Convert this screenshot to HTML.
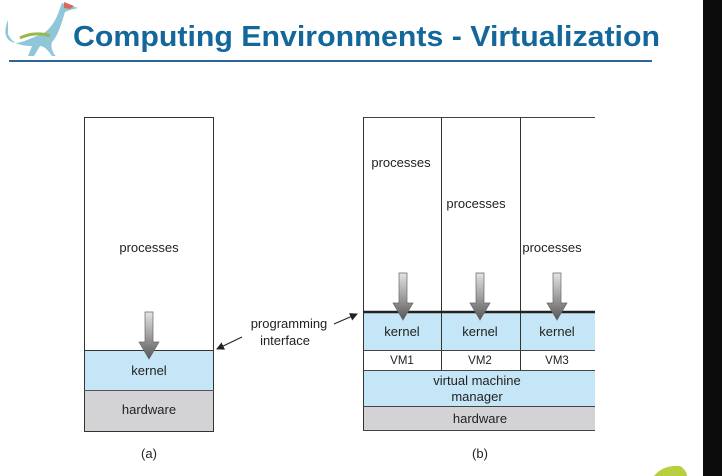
<!DOCTYPE html>
<html><head><meta charset="utf-8"><style>
html,body{margin:0;padding:0;background:#fff;width:722px;height:476px;overflow:hidden}
svg{display:block}
</style></head><body>
<svg width="722" height="476" viewBox="0 0 722 476" xmlns="http://www.w3.org/2000/svg" font-family="'Liberation Sans',sans-serif">
<defs>
<linearGradient id="g" x1="0" x2="0" y1="0" y2="1"><stop offset="0" stop-color="#e4e4e4"/><stop offset="0.55" stop-color="#999"/><stop offset="1" stop-color="#555"/></linearGradient>
<marker id="ah" markerWidth="8" markerHeight="8" refX="7" refY="4" orient="auto" markerUnits="userSpaceOnUse"><path d="M0,0 L8,4 L0,8 z" fill="#222"/></marker>
</defs>
<rect x="703" y="0" width="19" height="476" fill="#0c0c0c"/>
<!-- dino -->
<path d="M8,20 C4,30 4,38 12,42 C20,45 30,38 40,35 C48,32 56,22 60,8 L62,3 L72,6 L78,8 L70,10 L65,12 C62,22 58,36 52,42 C50,48 54,55 56,56 L52,56 C48,50 44,46 40,46 L34,56 L28,56 L32,46 C22,46 12,44 8,34 Z" fill="#8fc6d8"/>
<path d="M20,38 C28,34 40,32 50,36" stroke="#9ab84a" stroke-width="3" fill="none"/>
<path d="M64,2 L74,6 L70,9 L64,8 Z" fill="#d86a5a"/>
<text x="73" y="46" font-size="29" font-weight="bold" fill="#13679a" textLength="587" lengthAdjust="spacingAndGlyphs">Computing Environments - Virtualization</text>
<rect x="9" y="60" width="643" height="2" fill="#2f6596"/>
<!-- (a) -->
<rect x="84" y="350" width="130" height="40" fill="#c4e6f6"/>
<rect x="84" y="390" width="130" height="41" fill="#d3d3d5"/>
<rect x="84.5" y="117.5" width="129" height="314" fill="none" stroke="#333" stroke-width="1"/>
<line x1="84" y1="350.5" x2="214" y2="350.5" stroke="#333"/>
<line x1="84" y1="390.5" x2="214" y2="390.5" stroke="#555"/>
<g font-size="13" fill="#222" text-anchor="middle">
<text x="149" y="252">processes</text>
<text x="149" y="375">kernel</text>
<text x="149" y="414">hardware</text>
<text x="149" y="458">(a)</text>
<text x="289" y="328">programming</text>
<text x="285" y="345">interface</text>
</g>
<path d="M145,312 h8 v30 h6 l-10,17 l-10,-17 h6 z" fill="url(#g)" stroke="#666" stroke-width="0.7"/>
<line x1="242" y1="337" x2="217" y2="349" stroke="#222" marker-end="url(#ah)"/>
<line x1="334" y1="324" x2="357" y2="314" stroke="#222" marker-end="url(#ah)"/>
<!-- (b) -->
<rect x="363" y="312" width="232" height="38" fill="#c4e6f6"/>
<rect x="363" y="370" width="232" height="36" fill="#c4e6f6"/>
<rect x="363" y="406" width="232" height="25" fill="#d3d3d5"/>
<line x1="363" y1="117.5" x2="595" y2="117.5" stroke="#444"/>
<line x1="363.5" y1="117" x2="363.5" y2="431" stroke="#333"/>
<line x1="441.5" y1="117" x2="441.5" y2="370" stroke="#333"/>
<line x1="520.5" y1="117" x2="520.5" y2="370" stroke="#333"/>
<line x1="363" y1="312" x2="595" y2="312" stroke="#222" stroke-width="2.5"/>
<line x1="363" y1="350.5" x2="595" y2="350.5" stroke="#444"/>
<line x1="363" y1="370.5" x2="595" y2="370.5" stroke="#444"/>
<line x1="363" y1="406.5" x2="595" y2="406.5" stroke="#444"/>
<line x1="363" y1="430.5" x2="595" y2="430.5" stroke="#444"/>
<g font-size="13" fill="#222" text-anchor="middle">
<text x="401" y="167">processes</text>
<text x="476" y="208">processes</text>
<text x="552" y="252">processes</text>
<text x="402" y="336">kernel</text>
<text x="480" y="336">kernel</text>
<text x="557" y="336">kernel</text>
<text x="402" y="364" font-size="11.5">VM1</text>
<text x="480" y="364" font-size="11.5">VM2</text>
<text x="557" y="364" font-size="11.5">VM3</text>
<text x="477" y="385">virtual machine</text>
<text x="477" y="401">manager</text>
<text x="480" y="423">hardware</text>
<text x="480" y="458">(b)</text>
</g>
<path d="M399,273 h8 v30 h6 l-10,17 l-10,-17 h6 z" fill="url(#g)" stroke="#666" stroke-width="0.7"/>
<path d="M476,273 h8 v30 h6 l-10,17 l-10,-17 h6 z" fill="url(#g)" stroke="#666" stroke-width="0.7"/>
<path d="M553,273 h8 v30 h6 l-10,17 l-10,-17 h6 z" fill="url(#g)" stroke="#666" stroke-width="0.7"/>
<!-- corner blob -->
<path d="M654,476 C660,468 670,465 680,466 C685,469 687,473 687,476 Z" fill="#b8d040"/>
</svg>
</body></html>
